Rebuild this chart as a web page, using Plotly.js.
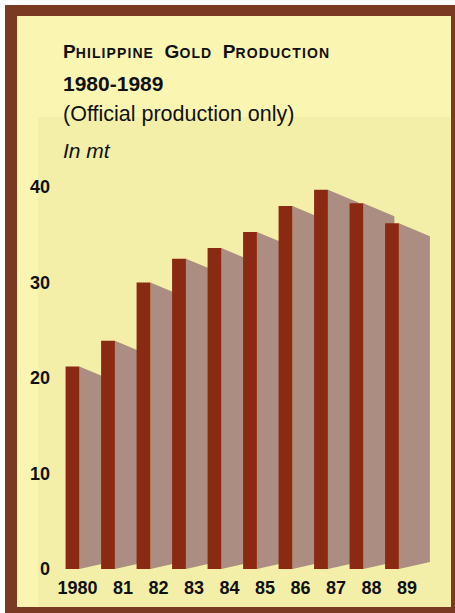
<!DOCTYPE html>
<html>
<head>
<meta charset="utf-8">
<script src="https://cdn.plot.ly/plotly-3.0.1.min.js"></script>
<style>
  html, body { margin: 0; padding: 0; background: #ffffff; width: 455px; height: 613px; overflow: hidden; }
  #frame { position: absolute; left: 5px; top: 5px; width: 450px; height: 608px; background: #7a3a22; }
  #chart { position: absolute; left: 17px; top: 16px; width: 434px; height: 591px; }
</style>
</head>
<body>
<div id="frame"></div>
<div id="chart"></div>
<script>
// Philippine official gold production, metric tons
const years = ['1980', '81', '82', '83', '84', '85', '86', '87', '88', '89'];
const production = [21.2, 23.9, 30.0, 32.5, 33.6, 35.3, 38.0, 39.7, 38.3, 36.2];
const yTicks = [0, 10, 20, 30, 40];

const FONT = 'Liberation Sans, Arial, Helvetica, sans-serif';
const BAR = '#8b2a13';
const SIDE = '#ab8d82';

const xs = years.map((_, i) => i);

// Receding side face of each bar, drawn behind the bars
const barWidth = 0.39;
const depthX = 0.873;
const dropTop = 1.36;
const riseBase = 0.73;
const sideShapes = production.map((v, i) => {
  const xr = i + barWidth / 2;
  const xe = xr + depthX;
  return {
    type: 'path', xref: 'x', yref: 'y', layer: 'below',
    path: `M${xr},${v} L${xe},${v - dropTop} L${xe},${riseBase} L${xr},0 Z`,
    fillcolor: SIDE, line: { width: 0 }
  };
});

const panel = {
  type: 'rect', xref: 'paper', yref: 'paper', layer: 'below',
  x0: -0.033, x1: 1.2, y0: -0.3, y1: 1.183,
  fillcolor: '#f3efa8', line: { width: 0 }
};

// small-caps heading built from sized spans
const sc = (t) => `<span style="font-size:14px;letter-spacing:1.1px">${t}</span>`;
const titleLine = 'P' + sc('HILIPPINE') + '  G' + sc('OLD') + '  P' + sc('RODUCTION');

const trace = {
  type: 'bar',
  x: xs,
  y: production,
  width: barWidth,
  marker: { color: BAR, line: { width: 0 } },
  hoverinfo: 'skip'
};

const layout = {
  width: 434, height: 591,
  margin: { l: 34, r: 2, t: 171, b: 38 },
  paper_bgcolor: '#faf6b2',
  plot_bgcolor: 'rgba(0,0,0,0)',
  showlegend: false,
  font: { family: FONT, color: '#111111' },
  xaxis: {
    range: [-0.606, 10.606],
    tickvals: xs, ticktext: years,
    showgrid: false, zeroline: false, showline: false, ticks: '',
    tickangle: 0,
    ticklabelposition: 'outside left',
    ticklabelshift: 25,
    ticklabelstandoff: 6,
    tickfont: { family: FONT, size: 18, weight: 'bold', color: '#111111' },
    fixedrange: true
  },
  yaxis: {
    range: [0, 40],
    tickvals: yTicks,
    showgrid: false, zeroline: false, showline: false, ticks: '',
    tickfont: { family: FONT, size: 18, weight: 'bold', color: '#111111' },
    fixedrange: true
  },
  shapes: [panel].concat(sideShapes),
  annotations: [
    { text: titleLine, xref: 'paper', yref: 'paper', x: 0.024, y: 1.354, xanchor: 'left', yanchor: 'middle', showarrow: false,
      font: { family: FONT, size: 19, weight: 'bold', color: '#111111' } },
    { text: '1980-1989', xref: 'paper', yref: 'paper', x: 0.024, y: 1.271, xanchor: 'left', yanchor: 'middle', showarrow: false,
      font: { family: FONT, size: 21, weight: 'bold', color: '#111111' } },
    { text: '(Official production only)', xref: 'paper', yref: 'paper', x: 0.024, y: 1.192, xanchor: 'left', yanchor: 'middle', showarrow: false,
      font: { family: FONT, size: 21.5, color: '#111111' } },
    { text: 'In mt', xref: 'paper', yref: 'paper', x: 0.024, y: 1.096, xanchor: 'left', yanchor: 'middle', showarrow: false,
      font: { family: FONT, size: 21, style: 'italic', color: '#111111' } }
  ]
};

Plotly.newPlot('chart', [trace], layout, { displayModeBar: false, staticPlot: true });
</script>
</body>
</html>
